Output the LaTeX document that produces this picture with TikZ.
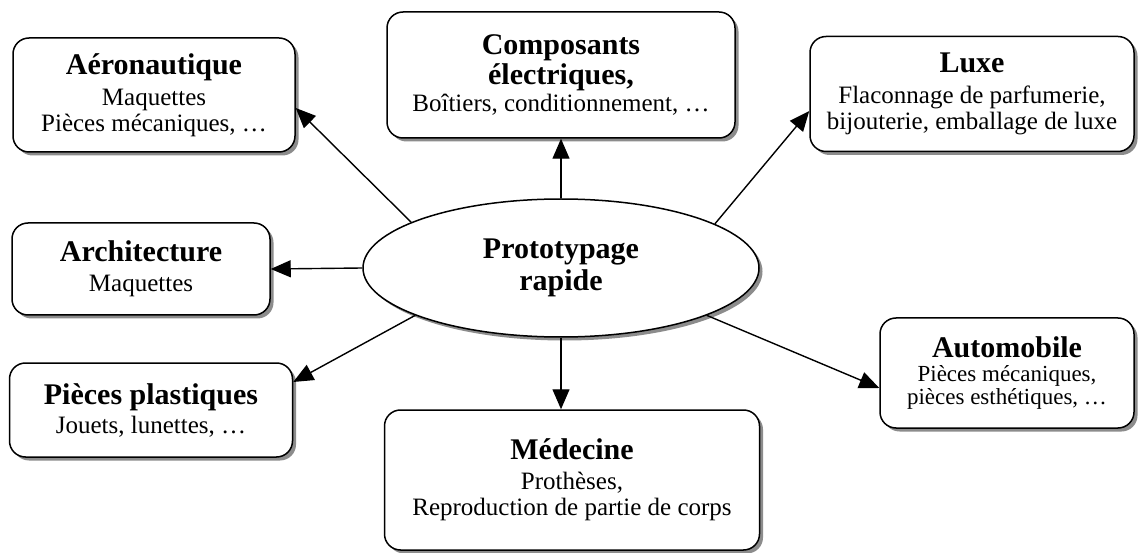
\documentclass[tikz,border=0pt]{standalone}
\usepackage{fontspec}
\setmainfont{Liberation Serif}
\usetikzlibrary{shapes.geometric,arrows.meta,shadows,calc}
\newcommand\ttlfont{\fontsize{30}{32}\selectfont\bfseries}
\tikzset{
  shad/.style={drop shadow={shadow xshift=3.5pt, shadow yshift=-3.5pt, fill=black!45, opacity=1}},
  box/.style={draw, line width=1.5pt, rounded corners=16pt, fill=white, align=center,
    inner sep=0pt, font=\fontsize{25}{26}\selectfont, shad},
  ellbox/.style={ellipse, draw, line width=1.5pt, fill=white, inner sep=0pt, align=center,
    font=\ttlfont, shad},
  arr/.style={line width=1.4pt, -{Triangle[length=20pt,width=17pt]}},
}
\begin{document}
\begin{tikzpicture}[x=1pt,y=-1pt]
\fill[white] (0,0) rectangle (1138,553);
\useasboundingbox (0,0) rectangle (1138,553);

\node[box, minimum width=282pt, minimum height=114pt] (aero) at (154,95)
  {{\ttlfont Aéronautique}\\[5pt] Maquettes\\ Pièces mécaniques, …};
\node[box, minimum width=348pt, minimum height=126pt] (comp) at (561,75)
  {{\ttlfont Composants}\\[1pt]{\ttlfont électriques,}\\[1pt] Boîtiers, conditionnement, …};
\node[box, minimum width=324pt, minimum height=115pt] (luxe) at (972,94)
  {{\ttlfont Luxe}\\[5pt] Flaconnage de parfumerie,\\ bijouterie, emballage de luxe};
\node[box, minimum width=258pt, minimum height=92pt] (arch) at (141,269)
  {{\ttlfont Architecture}\\[4pt] Maquettes};
\node[box, minimum width=283pt, minimum height=94pt] (plast) at (151,410)
  {{\ttlfont Pièces plastiques}\\[3pt] Jouets, lunettes, …};
\node[box, minimum width=375pt, minimum height=140pt] (med) at (572,480)
  {{\ttlfont Médecine}\\[4pt] Prothèses,\\ Reproduction de partie de corps};
\node[box, minimum width=254pt, minimum height=110pt, font=\fontsize{23}{23}\selectfont] (auto) at (1007,373)
  {{\ttlfont Automobile}\\[1pt] Pièces mécaniques,\\ pièces esthétiques, …};

\node[ellbox, minimum width=396pt, minimum height=138pt] (ell) at (561,268) {Prototypage\\rapide};

\coordinate (taero) at ([yshift=-13pt]aero.east);
\coordinate (tluxe) at ([yshift=-17pt]luxe.west);
\coordinate (tplast) at ([yshift=28pt]plast.east);
\coordinate (tauto) at ([yshift=-15pt]auto.west);

\draw[arr] (ell.163) -- (taero);
\draw[arr] (ell.north) -- (comp.south);
\draw[arr] (ell.16) -- (tluxe);
\draw[arr] (ell.west) -- (arch.east);
\draw[arr] (ell.198) -- (tplast);
\draw[arr] (ell.south) -- (ell.south |- med.north);
\draw[arr] (ell.342) -- (tauto);
\end{tikzpicture}
\end{document}
